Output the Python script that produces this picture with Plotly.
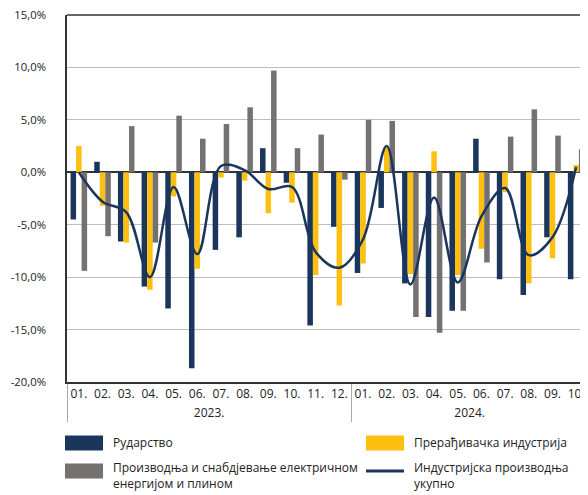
import plotly.graph_objects as go

years = ["2023."] * 12 + ["2024."] * 10
months = ["01.", "02.", "03.", "04.", "05.", "06.", "07.", "08.", "09.", "10.", "11.", "12.",
          "01.", "02.", "03.", "04.", "05.", "06.", "07.", "08.", "09.", "10."]

mining = [-4.5, 1.0, -6.6, -10.9, -13.0, -18.7, -7.4, -6.2, 2.3, -1.0, -14.6, -5.2,
          -9.6, -3.4, -10.6, -13.8, -13.2, 3.2, -10.2, -11.7, -6.2, -10.2]
manufacturing = [2.5, -3.2, -6.7, -11.2, -2.3, -9.2, -0.5, -0.8, -3.9, -2.9, -9.8, -12.7,
                 -8.7, 2.4, -9.7, 2.0, -9.8, -7.3, -1.9, -10.6, -8.2, 0.7]
energy = [-9.4, -6.1, 4.4, -6.7, 5.4, 3.2, 4.6, 6.2, 9.7, 2.3, 3.6, -0.7,
          5.0, 4.9, -13.8, -15.3, -13.2, -8.6, 3.4, 6.0, 3.5, 2.2]
total = [0.0, -2.8, -3.8, -10.0, -1.4, -7.8, 0.6, 0.2, -1.6, -1.4, -7.6, -9.1,
         -6.4, 2.5, -10.7, -2.4, -10.5, -4.2, -1.5, -7.9, -6.2, 0.5]

y_ticks = [-20, -15, -10, -5, 0, 5, 10, 15]
y_tick_labels = ["-20,0%", "-15,0%", "-10,0%", "-5,0%", "0,0%", "5,0%", "10,0%", "15,0%"]

names = ["Рударство", "Прерађивачка индустрија",
         "Производња и снабдјевање електричном<br>енергијом и плином",
         "Индустријска производња<br>укупно"]
NAVY = "#1B365D"
YELLOW = "#FDC010"
GRAY = "#767171"
FONT = "Open Sans"

x = [years, months]
fig = go.Figure()
fig.add_trace(go.Bar(x=x, y=mining, name=names[0], marker_color=NAVY, marker_line_width=0))
fig.add_trace(go.Bar(x=x, y=manufacturing, name=names[1], marker_color=YELLOW, marker_line_width=0))
fig.add_trace(go.Bar(x=x, y=energy, name=names[2], marker_color=GRAY, marker_line_width=0))
fig.add_trace(go.Scatter(x=x, y=total, name=names[3], mode="lines",
                         line=dict(color=NAVY, width=2.5, shape="spline", smoothing=1.0)))

# Page has an 8px body margin; figure is sized to fit in the window
OFF = 8
FW, FH = 588 - OFF, 495 - OFF
# Plot-area geometry in window pixels
L, R, T, B = 67, 588, 15, 382
W, H = R - L, B - T
def px(v):
    return (v - L) / W
def py(v):
    return (B - v) / H

shapes = [
    dict(type="line", xref="paper", yref="paper", x0=0, x1=1, y0=1, y1=1,
         line=dict(color="#333333", width=1.5)),
]
annotations = []
# (label, colour, kind, swatch x, swatch centre y)
legend_items = [
    (names[0], NAVY, "rect", 65, 443),
    (names[1], YELLOW, "rect", 366, 443),
    (names[2], GRAY, "rect", 65, 471),
    (names[3], NAVY, "line", 366, 471),
]
for label, col, kind, lx, cy in legend_items:
    if kind == "rect":
        shapes.append(dict(type="rect", xref="paper", yref="paper",
                           x0=px(lx), x1=px(lx + 38), y0=py(cy + 7.5), y1=py(cy - 7.5),
                           fillcolor=col, line=dict(width=0)))
    else:
        shapes.append(dict(type="line", xref="paper", yref="paper",
                           x0=px(lx), x1=px(lx + 38), y0=py(cy), y1=py(cy),
                           line=dict(color=col, width=3)))
    two = "<br>" in label
    annotations.append(dict(xref="paper", yref="paper", x=px(lx + 46),
                            y=py(494.5) if two else py(cy),
                            xanchor="left", yanchor="bottom" if two else "middle",
                            text=label, showarrow=False, align="left",
                            font=dict(family=FONT, size=12, color="#222222")))

fig.update_layout(
    width=FW, height=FH,
    margin=dict(l=L - OFF, r=FW - (R - OFF), t=T - OFF, b=FH - (B - OFF), autoexpand=False),
    plot_bgcolor="white", paper_bgcolor="white",
    barmode="group", bargap=0.3, bargroupgap=0.0,
    showlegend=False,
    font=dict(family=FONT, size=12, color="#222222"),
    shapes=shapes, annotations=annotations,
)
fig.update_yaxes(range=[-20, 15], tickvals=y_ticks, ticktext=y_tick_labels,
                 showgrid=True, gridcolor="#BDBDBD", gridwidth=1,
                 zeroline=True, zerolinecolor="#333333", zerolinewidth=1.5,
                 showline=True, linecolor="#333333", linewidth=1.5,
                 ticks="", ticklabelstandoff=17, automargin=False,
                 ticklabeloverflow="allow", tickfont=dict(size=11.3))
fig.update_xaxes(type="multicategory", showgrid=False, automargin=False,
                 showline=True, linecolor="#333333", linewidth=1.5,
                 showdividers=True, dividercolor="#AAAAAA", dividerwidth=1,
                 ticks="", tickangle=0, tickfont=dict(size=12),
                 ticklabeloverflow="allow")

fig.write_html("out.html")
